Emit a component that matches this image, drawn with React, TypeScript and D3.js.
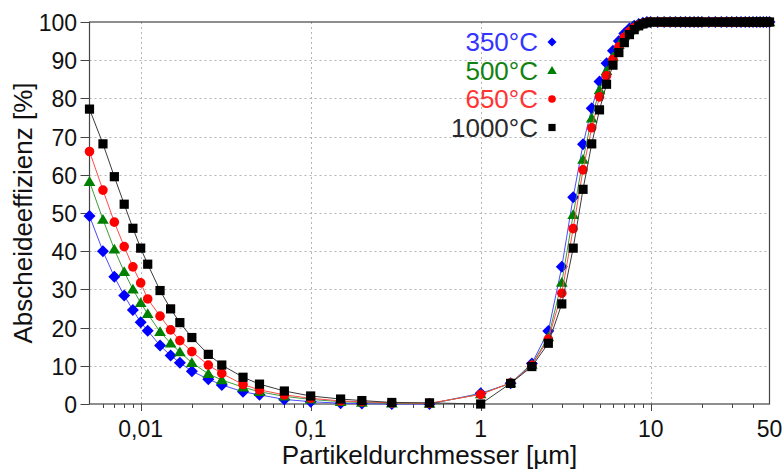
import * as d3 from "d3";
import { useEffect, useRef } from "react";

// Partikeldurchmesser [µm]
const sizes = [
  0.005, 0.006, 0.007, 0.008, 0.009, 0.01, 0.011, 0.013, 0.015, 0.017, 0.02, 0.025, 0.03, 0.04, 0.05, 0.07,
  0.1, 0.15, 0.2, 0.3, 0.5, 1, 1.5, 2, 2.5, 3, 3.5, 4, 4.5, 5, 5.5, 6, 6.5, 7, 7.5, 8, 8.5, 9, 9.5, 10,
  11, 12, 13, 14, 15, 16, 17, 18, 19, 20, 22, 24, 26, 28, 30, 32, 34, 36, 38, 40, 42, 44, 46, 48, 50,
];

// Abscheideeffizienz [%]
const eff350 = [
  49.2, 40, 33.3, 28.4, 24.6, 21.4, 19.2, 15.3, 12.7, 10.8, 8.6, 6.5, 5.0, 3.2, 2.4, 1.2,
  0.6, 0.2, 0.1, 0, 0, 2.8, 5.4, 10.6, 19.1, 35.9, 54.1, 68, 77.4, 84.4, 89.2, 92.5, 95, 97, 98.3, 99, 99.5, 99.8, 100, 100,
  100, 100, 100, 100, 100, 100, 100, 100, 100, 100, 100, 100, 100, 100, 100, 100, 100, 100, 100, 100, 100, 100, 100, 100, 100,
];
const eff500 = [
  58.2, 48.3, 40.5, 34.6, 30, 26.5, 23.6, 18.9, 15.9, 13.6, 10.8, 7.9, 6.3, 4.4, 3.2, 2.0,
  1.2, 0.6, 0.4, 0.2, 0.1, 2.6, 5.5, 10.3, 17.5, 31.8, 49.5, 64, 74.8, 82.2, 87.2, 90.9, 94, 96.3, 97.8, 98.7, 99.3, 99.7, 99.9, 100,
  100, 100, 100, 100, 100, 100, 100, 100, 100, 100, 100, 100, 100, 100, 100, 100, 100, 100, 100, 100, 100, 100, 100, 100, 100,
];
const eff650 = [
  66.1, 56, 47.6, 41.2, 35.9, 31.7, 27.5, 23, 19.4, 16.6, 13.7, 10.2, 8, 5.1, 3.7, 2.4,
  1.5, 0.8, 0.6, 0.3, 0.2, 2.5, 5.5, 10.1, 17, 29, 45.9, 61.3, 72.3, 80.4, 85.9, 90.2, 93.5, 96, 97.5, 98.5, 99.2, 99.6, 99.9, 100,
  100, 100, 100, 100, 100, 100, 100, 100, 100, 100, 100, 100, 100, 100, 100, 100, 100, 100, 100, 100, 100, 100, 100, 100, 100,
];
const eff1000 = [
  77.2, 68.1, 59.5, 52.3, 46, 40.8, 36.6, 29.7, 24.9, 21.3, 17.4, 13, 10.2, 7, 5.2, 3.4,
  2.1, 1.3, 0.9, 0.4, 0.3, 0, 5.4, 9.8, 15.9, 26.2, 40.8, 56.2, 68.1, 77, 83.7, 88.7, 92, 94.6, 96.7, 98, 99, 99.5, 99.8, 100,
  100, 100, 100, 100, 100, 100, 100, 100, 100, 100, 100, 100, 100, 100, 100, 100, 100, 100, 100, 100, 100, 100, 100, 100, 100,
];

const seriesNames = ["350°C", "500°C", "650°C", "1000°C"];
const xTickValues = [0.01, 0.1, 1, 10, 50];
const xTickLabels = ["0,01", "0,1", "1", "10", "50"];
const yTickValues = [0, 10, 20, 30, 40, 50, 60, 70, 80, 90, 100];

const FONT = "'Liberation Sans', Arial, sans-serif";

// marker paths centred on 0,0
const markerPath = (kind: string, s: number) => {
  if (kind === "diamond") return `M0,${-s}L${s},0L0,${s}L${-s},0Z`;
  if (kind === "triangle") return `M0,${-s}L${s * 1.05},${s * 0.75}L${-s * 1.05},${s * 0.75}Z`;
  if (kind === "square") return `M${-s},${-s}H${s}V${s}H${-s}Z`;
  return `M${-s},0A${s},${s} 0 1,0 ${s},0A${s},${s} 0 1,0 ${-s},0Z`;
};

const App = () => {
  const svgRef = useRef(null);

  useEffect(() => {
    const width = 783;
    const height = 469;
    const left = 89.5;
    const right = 769.5;
    const top = 22;
    const bottom = 404;

    const svg = d3.select(svgRef.current).attr("width", width).attr("height", height);
    svg.selectAll("*").remove();

    const x = d3.scaleLog().domain([0.005, 50]).range([left, right]);
    const y = d3.scaleLinear().domain([0, 100]).range([bottom, top]);

    // grid
    const grid = svg.append("g").attr("stroke", "#b4b4b4").attr("stroke-dasharray", "2,3").attr("stroke-width", 1);
    yTickValues.slice(1, -1).forEach((v) => {
      grid.append("line").attr("x1", left).attr("x2", right).attr("y1", Math.round(y(v)) + 0.5).attr("y2", Math.round(y(v)) + 0.5);
    });
    xTickValues.slice(0, -1).forEach((v) => {
      grid.append("line").attr("x1", Math.round(x(v)) + 0.5).attr("x2", Math.round(x(v)) + 0.5).attr("y1", top).attr("y2", bottom);
    });

    // frame
    svg
      .append("rect")
      .attr("x", left)
      .attr("y", top)
      .attr("width", right - left)
      .attr("height", bottom - top)
      .attr("fill", "none")
      .attr("stroke", "#444")
      .attr("stroke-width", 1.2);

    // y ticks
    const yAxis = svg.append("g");
    yTickValues.forEach((v) => {
      const py = Math.round(y(v)) + 0.5;
      yAxis.append("line").attr("x1", left - 9).attr("x2", left).attr("y1", py).attr("y2", py).attr("stroke", "#444");
      yAxis
        .append("text")
        .attr("x", 77)
        .attr("y", py)
        .attr("dy", "0.36em")
        .attr("text-anchor", "end")
        .attr("font-family", FONT)
        .attr("font-size", 23)
        .attr("fill", "#111")
        .text(v);
    });

    // x ticks (major + minor)
    const xAxis = svg.append("g");
    const minor: number[] = [];
    [0.001, 0.01, 0.1, 1, 10].forEach((d) => {
      for (let m = 1; m < 10; m++) {
        const v = d * m;
        if (v > 0.005 && v < 50) minor.push(v);
      }
    });
    minor.forEach((v) => {
      const px = Math.round(x(v)) + 0.5;
      const major = xTickValues.includes(v);
      xAxis
        .append("line")
        .attr("x1", px)
        .attr("x2", px)
        .attr("y1", bottom)
        .attr("y2", bottom + (major ? 7 : 4))
        .attr("stroke", "#444");
    });
    xTickValues.forEach((v, i) => {
      xAxis
        .append("text")
        .attr("x", x(v))
        .attr("y", 437)
        .attr("text-anchor", "middle")
        .attr("font-family", FONT)
        .attr("font-size", 23)
        .attr("fill", "#111")
        .text(xTickLabels[i]);
    });

    // titles
    svg
      .append("text")
      .attr("x", (left + right) / 2)
      .attr("y", 464)
      .attr("text-anchor", "middle")
      .attr("font-family", FONT)
      .attr("font-size", 26)
      .attr("fill", "#111")
      .text("Partikeldurchmesser [µm]");
    svg
      .append("text")
      .attr("transform", `translate(32, ${(top + bottom) / 2}) rotate(-90)`)
      .attr("text-anchor", "middle")
      .attr("font-family", FONT)
      .attr("font-size", 26)
      .attr("fill", "#111")
      .text("Abscheideeffizienz [%]");

    const series = [
      { name: seriesNames[0], values: eff350, line: "#4b4bff", fill: "#0000ff", text: "#3434ff", kind: "diamond", size: 6, legendSize: 4.5 },
      { name: seriesNames[1], values: eff500, line: "#3c9a3c", fill: "#008000", text: "#118211", kind: "triangle", size: 5.6, legendSize: 4.6 },
      { name: seriesNames[2], values: eff650, line: "#ff4a4a", fill: "#ff0000", text: "#ff3434", kind: "circle", size: 4.8, legendSize: 3.8 },
      { name: seriesNames[3], values: eff1000, line: "#3a3a3a", fill: "#000000", text: "#2a2a2a", kind: "square", size: 4.6, legendSize: 3.6 },
    ];

    const line = d3
      .line<number>()
      .x((_, i) => x(sizes[i]))
      .y((d) => y(d));

    series.forEach((s) => {
      const g = svg.append("g");
      g.append("path").attr("d", line(s.values)).attr("fill", "none").attr("stroke", s.line).attr("stroke-width", 1);
      g.selectAll("path.m")
        .data(s.values)
        .enter()
        .append("path")
        .attr("class", "m")
        .attr("transform", (d, i) => `translate(${x(sizes[i])},${y(d)})`)
        .attr("d", markerPath(s.kind, s.size))
        .attr("fill", s.fill);
    });

    // legend
    const legend = svg.append("g");
    series.forEach((s, i) => {
      const by = 51 + i * 28.5;
      legend
        .append("text")
        .attr("x", 538)
        .attr("y", by)
        .attr("text-anchor", "end")
        .attr("font-family", FONT)
        .attr("font-size", 26)
        .attr("fill", s.text)
        .text(s.name);
      legend
        .append("path")
        .attr("transform", `translate(552,${by - 9})`)
        .attr("d", markerPath(s.kind, s.legendSize))
        .attr("fill", s.fill);
    });
  }, []);

  return (
    <div style={{ position: "absolute", left: 0, top: 0 }}>
      <svg ref={svgRef}></svg>
    </div>
  );
};

export default App;
